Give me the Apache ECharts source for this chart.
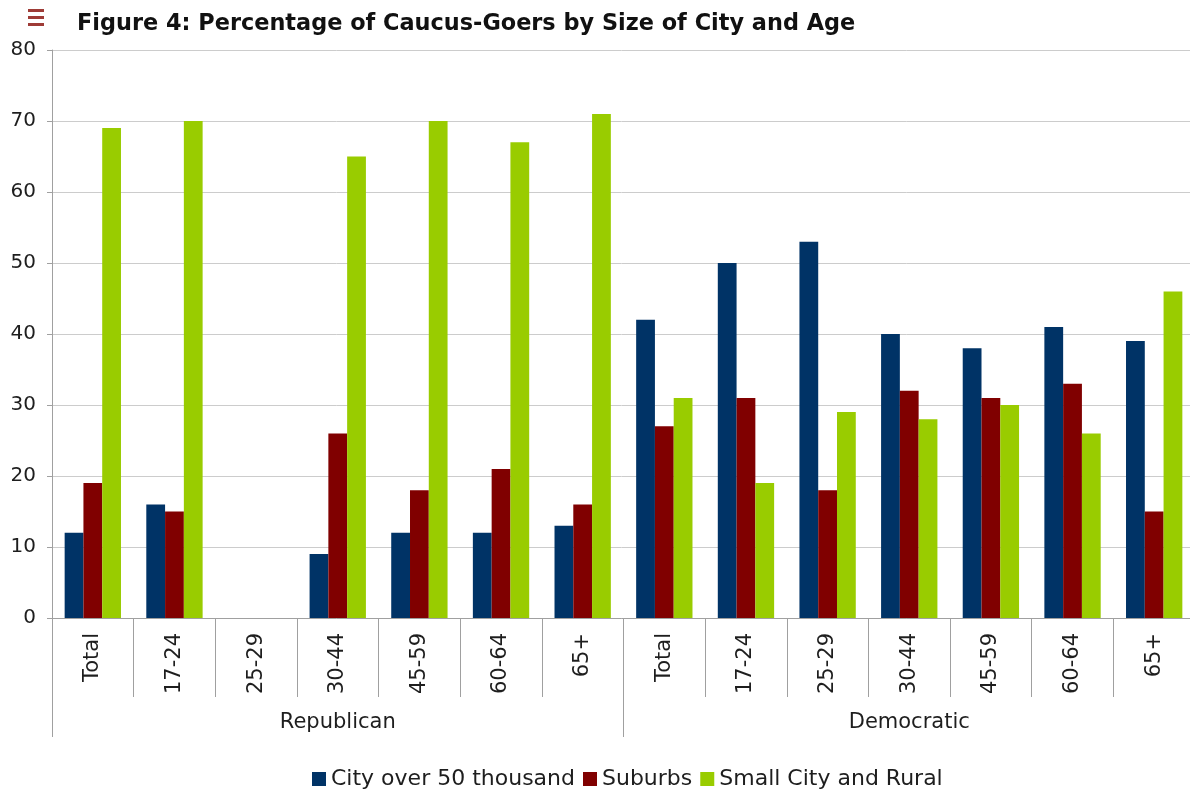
<!DOCTYPE html>
<html>
<head>
<meta charset="utf-8">
<title>Figure 4: Percentage of Caucus-Goers by Size of City and Age</title>
<script src="https://cdn.jsdelivr.net/npm/echarts@6/dist/echarts.min.js"></script>
<style>
  html, body { margin: 0; padding: 0; background: #ffffff; }
  #chart { width: 1190px; height: 791px; }
</style>
</head>
<body>
<div id="chart"></div>
<script>
// Age groups repeated for each party (inner axis), parties (outer axis)
const parties = ['Republican', 'Democratic'];
const ageGroups = ['Total', '17-24', '25-29', '30-44', '45-59', '60-64', '65+'];
const categories = parties.flatMap(() => ageGroups);

// Percentage of caucus-goers, Republican groups first then Democratic
const cityOver50k = [12, 16, null, 9, 12, 12, 13, 42, 50, 53, 40, 38, 41, 39];
const suburbs = [19, 15, null, 26, 18, 21, 16, 27, 31, 18, 32, 31, 33, 15];
const smallCityRural = [69, 70, null, 65, 70, 67, 71, 31, 19, 29, 28, 30, 26, 46];

const yTicks = { min: 0, max: 80, interval: 10 };

const seriesNames = ['City over 50 thousand', 'Suburbs', 'Small City and Rural'];
const seriesColors = ['#003366', '#800000', '#99cc00'];
const seriesData = [cityOver50k, suburbs, smallCityRural];

const FONT = "Verdana, 'DejaVu Sans', sans-serif";
const TEXT = '#1e1e1e';
const AXIS = '#a0a0a0';

const chart = echarts.init(document.getElementById('chart'), null, { renderer: 'canvas' });

chart.setOption({
  backgroundColor: '#ffffff',
  animation: false,
  title: {
    text: 'Figure 4: Percentage of Caucus-Goers by Size of City and Age',
    left: 72,
    top: 8,
    textStyle: { fontFamily: FONT, fontSize: 22.4, fontWeight: 'bold', color: '#111' }
  },
  graphic: [
    { type: 'rect', left: 28, top: 9, shape: { width: 16, height: 3 }, style: { fill: '#9e3b36' } },
    { type: 'rect', left: 28, top: 16, shape: { width: 16, height: 3 }, style: { fill: '#9e3b36' } },
    { type: 'rect', left: 28, top: 23, shape: { width: 16, height: 3 }, style: { fill: '#9e3b36' } }
  ],
  legend: {
    data: seriesNames,
    left: 312,
    top: 768,
    padding: 0,
    itemWidth: 14,
    itemHeight: 14,
    itemGap: 8,
    icon: 'rect',
    textStyle: { fontFamily: FONT, fontSize: 22, color: TEXT }
  },
  grid: {
    left: 52,
    top: 50,
    width: 1143,
    bottom: 173,
    containLabel: false,
    outerBoundsMode: 'none'
  },
  xAxis: [
    {
      type: 'category',
      data: categories,
      position: 'bottom',
      offset: 0,
      boundaryGap: true,
      axisLine: { show: true, lineStyle: { color: AXIS, width: 1 } },
      axisTick: { show: true, length: 79, lineStyle: { color: AXIS } },
      axisLabel: {
        rotate: 90,
        margin: 15,
        interval: 0,
        fontFamily: FONT,
        fontSize: 21,
        color: TEXT
      }
    },
    {
      type: 'category',
      data: parties,
      position: 'bottom',
      offset: 0,
      boundaryGap: true,
      axisLine: { show: false },
      axisTick: { show: true, length: 119, lineStyle: { color: AXIS } },
      axisLabel: {
        margin: 94,
        interval: 0,
        fontFamily: FONT,
        fontSize: 21,
        color: TEXT
      }
    }
  ],
  yAxis: {
    type: 'value',
    min: yTicks.min,
    max: yTicks.max,
    interval: yTicks.interval,
    axisLine: { show: true, lineStyle: { color: AXIS } },
    axisTick: { show: true, length: 5, lineStyle: { color: AXIS } },
    axisLabel: { margin: 16, fontFamily: FONT, fontSize: 20, color: TEXT },
    splitLine: { show: true, lineStyle: { color: '#cccccc', width: 1 } }
  },
  series: seriesNames.map((name, i) => ({
    name,
    type: 'bar',
    xAxisIndex: 0,
    data: seriesData[i],
    itemStyle: { color: seriesColors[i] },
    barGap: '0%',
    barCategoryGap: '31%'
  }))
});
</script>
</body>
</html>
